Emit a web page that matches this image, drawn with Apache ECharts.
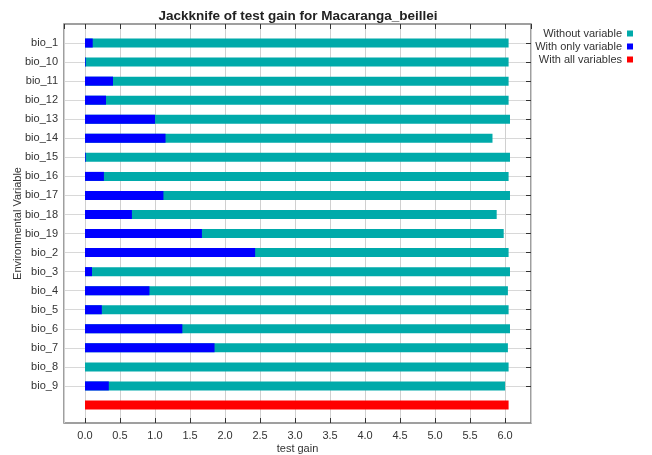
<!DOCTYPE html>
<html>
<head>
<meta charset="utf-8">
<script src="https://cdn.jsdelivr.net/npm/echarts@6/dist/echarts.min.js"></script>
<style>html,body{margin:0;padding:0;background:#fff}#c{width:652px;height:455px}</style>
</head>
<body>
<div id="c"></div>
<script>
const categories = ['bio_1','bio_10','bio_11','bio_12','bio_13','bio_14','bio_15','bio_16','bio_17','bio_18','bio_19','bio_2','bio_3','bio_4','bio_5','bio_6','bio_7','bio_8','bio_9',''];
const withoutVariable = [6.05,6.05,6.05,6.05,6.07,5.82,6.07,6.05,6.07,5.88,5.98,6.05,6.07,6.04,6.05,6.07,6.04,6.05,6.00,null];
const withOnlyVariable = [0.11,0.01,0.40,0.30,1.00,1.15,0.01,0.27,1.12,0.67,1.67,2.43,0.10,0.92,0.24,1.39,1.85,0.00,0.34,null];
const withAllVariables = [null,null,null,null,null,null,null,null,null,null,null,null,null,null,null,null,null,null,null,6.05];
const xMin = -0.3, xMax = 6.37;

const FONT = 'Liberation Sans';
const chart = echarts.init(document.getElementById('c'), null, {renderer:'canvas'});
const lastIdx = categories.length - 1;
chart.setOption({
  animation:false,
  backgroundColor:'#fff',
  title:{text:'Jackknife of test gain for Macaranga_beillei', left:293, top:4, textAlign:'center',
    textStyle:{fontFamily:FONT, fontSize:13.5, fontWeight:'bold', color:'#222'}},
  legend:{orient:'vertical', right:14, top:23, align:'right', itemWidth:6, itemHeight:6, itemGap:2,
    icon:'rect', selectedMode:false,
    textStyle:{fontFamily:FONT, fontSize:11, color:'#333'},
    data:['Without variable','With only variable','With all variables']},
  grid:[
    {left:64, right:121, top:24, bottom:32, show:true, borderColor:'#808080', borderWidth:1.5, backgroundColor:'#fff', outerBoundsMode:'none', containLabel:false},
    {left:64, right:121, top:33.5, height:381, outerBoundsMode:'none', containLabel:false}
  ],
  xAxis:[
    {type:'value', gridIndex:0, min:xMin, max:xMax, splitNumber:13, minInterval:0.5, maxInterval:0.5,
     name:'test gain', nameLocation:'middle', nameGap:20, nameMoveOverlap:false,
     nameTextStyle:{fontFamily:FONT, fontSize:11, color:'#333'},
     axisLine:{show:false},
     axisTick:{show:true, inside:true, length:5, lineStyle:{color:'#333'}},
     axisLabel:{margin:7, fontFamily:FONT, fontSize:11, color:'#333', showMinLabel:false, showMaxLabel:false,
       formatter:v => v.toFixed(1)},
     splitLine:{show:true, lineStyle:{color:'#d0d0d0', width:1}}},
    {type:'value', gridIndex:0, position:'top', min:xMin, max:xMax, splitNumber:13, minInterval:0.5, maxInterval:0.5,
     axisLine:{show:false}, axisLabel:{show:false}, splitLine:{show:false},
     axisTick:{show:true, inside:true, length:5, lineStyle:{color:'#333'}}},
    {type:'value', gridIndex:1, min:xMin, max:xMax, show:false}
  ],
  yAxis:[
    {type:'value', gridIndex:0, min:0, max:1, show:true, name:'Environmental Variable', nameLocation:'middle', nameGap:41, nameMoveOverlap:false,
     nameTextStyle:{fontFamily:FONT, fontSize:11, color:'#333'},
     axisLine:{show:false}, axisTick:{show:false}, axisLabel:{show:false}, splitLine:{show:false}},
    {type:'category', gridIndex:1, data:categories, inverse:true,
     axisLine:{show:false},
     axisTick:{show:true, inside:true, length:5, alignWithLabel:true, interval:(i)=> i < lastIdx, lineStyle:{color:'#333'}},
     axisLabel:{margin:6, fontFamily:FONT, fontSize:11, color:'#333', interval:0},
     splitLine:{show:true, alignWithLabel:true, interval:(i)=> i < lastIdx, lineStyle:{color:'#d8d8d8', width:1}}},
    {type:'category', gridIndex:1, data:categories, inverse:true, position:'right',
     axisLine:{show:false}, axisLabel:{show:false}, splitLine:{show:false},
     axisTick:{show:true, inside:true, length:5, alignWithLabel:true, interval:(i)=> i < lastIdx, lineStyle:{color:'#333'}}}
  ],
  series:[
    {name:'Without variable', type:'bar', xAxisIndex:2, yAxisIndex:1, data:withoutVariable, barWidth:9, barGap:'-100%',
     itemStyle:{color:'#00aaaa'}},
    {name:'With only variable', type:'bar', xAxisIndex:2, yAxisIndex:1, data:withOnlyVariable, barWidth:9, barGap:'-100%',
     itemStyle:{color:'#0000ff'}},
    {name:'With all variables', type:'bar', xAxisIndex:2, yAxisIndex:1, data:withAllVariables, barWidth:9, barGap:'-100%',
     itemStyle:{color:'#ff0000'}}
  ]
});
</script>
</body>
</html>
